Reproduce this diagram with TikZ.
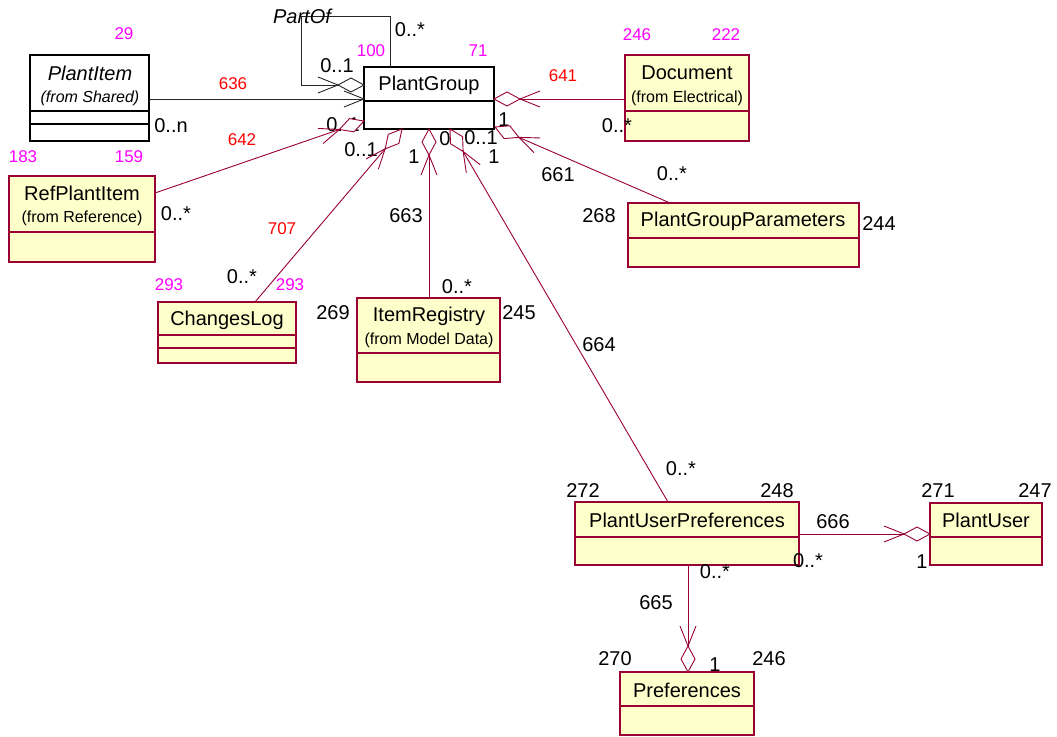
\documentclass[tikz,border=0pt]{standalone}
\usepackage{fontspec}
\setmainfont{Liberation Sans}
\usetikzlibrary{calc}
\definecolor{umlred}{RGB}{153,0,51}
\definecolor{umlfill}{RGB}{255,255,204}
\definecolor{magen}{RGB}{255,0,255}
\definecolor{lblred}{RGB}{255,0,0}
% #2 = end at the box (diamond), #3 = other end
\newcommand\aggrline[3][]{%
  \draw[#1] (#3) -- ($(#2)!26pt!(#3)$);
  \draw[#1] ($(#2)!46pt!(#3)!8pt!90:(#3)$) -- ($(#2)!26pt!(#3)$) -- ($(#2)!46pt!(#3)!8pt!-90:(#3)$);
  \draw[#1,fill=white] (#2) -- ($(#2)!13pt!(#3)!7pt!90:(#3)$) -- ($(#2)!26pt!(#3)$) -- ($(#2)!13pt!(#3)!7pt!-90:(#3)$) -- cycle;
}
\newcommand\openhead[3][]{%
  \draw[#1] (#3) -- (#2);
  \draw[#1] ($(#2)!20pt!(#3)!8pt!90:(#3)$) -- (#2) -- ($(#2)!20pt!(#3)!8pt!-90:(#3)$);
}
\newcommand\umlbox[6]{%
  \node[#1, minimum width={#5-#3}, minimum height={#6-#4}] (#2) at (#3,#4) {};
}
\tikzset{
  conn/.style={umlred, line width=0.9pt},
  blkconn/.style={black!85, line width=0.9pt},
  ybox/.style={draw=umlred, fill=umlfill, line width=1.2pt, inner sep=0pt, outer sep=0pt, anchor=north west},
  wbox/.style={draw=black, fill=white, line width=1.2pt, inner sep=0pt, outer sep=0pt, anchor=north west},
  ydiv/.style={umlred, line width=1.2pt},
  wdiv/.style={black, line width=1.2pt},
  cname/.style={font=\fontsize{20}{22}\selectfont, inner sep=0pt},
  fromt/.style={font=\fontsize{16}{18}\selectfont, inner sep=0pt},
  lbl/.style={font=\fontsize{20}{22}\selectfont, inner sep=0pt},
  mag/.style={font=\fontsize{17}{19}\selectfont, text=magen, inner sep=0pt},
  rlbl/.style={font=\fontsize{17}{19}\selectfont, text=lblred, inner sep=0pt},
}
\begin{document}
\begin{tikzpicture}[x=1pt,y=-1pt]
\useasboundingbox[fill=white] (0,0) rectangle (1057,736);

% ---- boxes ----
\umlbox{wbox}{pitem}{30}{55}{149}{141}
\draw[wdiv] (30,111) -- (149,111); \draw[wdiv] (30,124) -- (149,124);
\node[cname, font=\fontsize{20}{22}\selectfont\itshape] (pitem-t) at (90,73) {PlantItem};
\node[fromt, font=\fontsize{16}{18}\selectfont\itshape] (pitem-f) at (90,98) {(from Shared)};

\umlbox{wbox}{pg}{364}{67}{494}{129}
\draw[wdiv] (364,101) -- (494,101);
\node[cname] (pg-t) at (429,85) {PlantGroup};

\umlbox{ybox}{doc}{625}{55}{749}{141}
\draw[ydiv] (625,111) -- (749,111);
\node[cname] (doc-t) at (687,73) {Document};
\node[fromt] (doc-f) at (687,98) {(from Electrical)};

\umlbox{ybox}{rpi}{9}{176}{155}{262}
\draw[ydiv] (9,232) -- (155,232);
\node[cname] (rpi-t) at (82,193) {RefPlantItem};
\node[fromt] (rpi-f) at (82,218) {(from Reference)};

\umlbox{ybox}{cl}{158}{302}{296}{363}
\draw[ydiv] (158,335) -- (296,335); \draw[ydiv] (158,348) -- (296,348);
\node[cname] (cl-t) at (227,320) {ChangesLog};

\umlbox{ybox}{ir}{357}{298}{500}{382}
\draw[ydiv] (357,353) -- (500,353);
\node[cname] (ir-t) at (429,316) {ItemRegistry};
\node[fromt] (ir-f) at (429,340) {(from Model Data)};

\umlbox{ybox}{pgp}{628}{203}{859}{267}
\draw[ydiv] (628,238) -- (859,238);
\node[cname] (pgp-t) at (743,221) {PlantGroupParameters};

\umlbox{ybox}{pup}{575}{502}{799}{565}
\draw[ydiv] (575,537) -- (799,537);
\node[cname] (pup-t) at (687,520) {PlantUserPreferences};

\umlbox{ybox}{pu}{930}{503}{1042}{565}
\draw[ydiv] (930,537) -- (1042,537);
\node[cname] (pu-t) at (986,520) {PlantUser};

\umlbox{ybox}{pref}{620}{672}{754}{735}
\draw[ydiv] (620,706) -- (754,706);
\node[cname] (pref-t) at (687,690) {Preferences};

% ---- attach points ----
\coordinate (pg-n) at (390,67);
\coordinate (lp1) at (390,16);
\coordinate (lp2) at (301,16);
\coordinate (lp3) at (301,85);
\coordinate (pg-w1) at (364,85);
\coordinate (pg-w2) at (364,99);
\coordinate (pi-e) at (149,99);
\coordinate (pg-e1) at (494,99);
\coordinate (doc-w) at (625,99);
\coordinate (pg-w3) at (364,121);
\coordinate (rpi-e) at (155,193);
\coordinate (pg-s1) at (402,129);
\coordinate (cl-n) at (255,302);
\coordinate (pg-s2) at (429,129);
\coordinate (ir-n) at (429,298);
\coordinate (pg-s3) at (450,129);
\coordinate (pup-n) at (668,502);
\coordinate (pg-e2) at (495,127);
\coordinate (pgp-n) at (670,203);
\coordinate (pup-e) at (799,534);
\coordinate (pu-w) at (930,534);
\coordinate (pup-s) at (688,565);
\coordinate (pref-n) at (688,672);

% ---- self loop line ----
\draw[blkconn] (pg-n) -- (lp1) -- (lp2) -- (lp3);

% ---- labels ----
\node[lbl, font=\fontsize{20}{22}\selectfont\itshape] (l-partof) at (302,16) {PartOf};
\node[lbl] (l1) at (410,30) {0..*};
\node[lbl] (l2) at (337,66) {0..1};
\node[lbl] (l3) at (171,126) {0..n};
\node[lbl] (l4) at (617,126) {0..*};
\node[lbl] (l5) at (343,125) {0..1};
\node[lbl] (l6) at (361,150) {0..1};
\node[lbl] (l7) at (414,157) {1};
\node[lbl] (l8) at (445,139) {0};
\node[lbl] (l9) at (481,138) {0..1};
\node[lbl] (l10) at (504,120) {1};
\node[lbl] (l11) at (494,157) {1};
\node[lbl] (l12) at (672,174) {0..*};
\node[lbl] (l13) at (558,175) {661};
\node[lbl] (l14) at (599,216) {268};
\node[lbl] (l15) at (879,224) {244};
\node[lbl] (l16) at (406,216) {663};
\node[lbl] (l17) at (457,287) {0..*};
\node[lbl] (l18) at (333,313) {269};
\node[lbl] (l19) at (519,313) {245};
\node[lbl] (l20) at (599,345) {664};
\node[lbl] (l21) at (242,277) {0..*};
\node[lbl] (l22) at (176,214) {0..*};
\node[lbl] (l23) at (681,469) {0..*};
\node[lbl] (l24) at (583,491) {272};
\node[lbl] (l25) at (777,491) {248};
\node[lbl] (l26) at (938,491) {271};
\node[lbl] (l27) at (1035,491) {247};
\node[lbl] (l28) at (833,522) {666};
\node[lbl] (l29) at (808,561) {0..*};
\node[lbl] (l30) at (922,562) {1};
\node[lbl] (l31) at (715,572) {0..*};
\node[lbl] (l32) at (656,603) {665};
\node[lbl] (l33) at (715,665) {1};
\node[lbl] (l34) at (615,659) {270};
\node[lbl] (l35) at (769,659) {246};

\node[mag] (m1) at (124,34) {29};
\node[mag] (m2) at (23,157) {183};
\node[mag] (m3) at (129,157) {159};
\node[mag] (m4) at (371,51) {100};
\node[mag] (m5) at (478,51) {71};
\node[mag] (m6) at (637,35) {246};
\node[mag] (m7) at (726,35) {222};
\node[mag] (m8) at (169,285) {293};
\node[mag] (m9) at (290,285) {293};

\node[rlbl] (r1) at (233,84) {636};
\node[rlbl] (r2) at (242,140) {642};
\node[rlbl] (r3) at (563,76) {641};
\node[rlbl] (r4) at (282,229) {707};

% ---- connectors ----
\aggrline[blkconn]{pg-w1}{lp3}
\openhead[blkconn]{pg-w2}{pi-e}
\aggrline[conn]{pg-e1}{doc-w}
\aggrline[conn]{pg-w3}{rpi-e}
\aggrline[conn]{pg-s1}{cl-n}
\aggrline[conn]{pg-s2}{ir-n}
\aggrline[conn]{pg-s3}{pup-n}
\aggrline[conn]{pg-e2}{pgp-n}
\aggrline[conn]{pu-w}{pup-e}
\aggrline[conn]{pref-n}{pup-s}
\end{tikzpicture}
\end{document}
